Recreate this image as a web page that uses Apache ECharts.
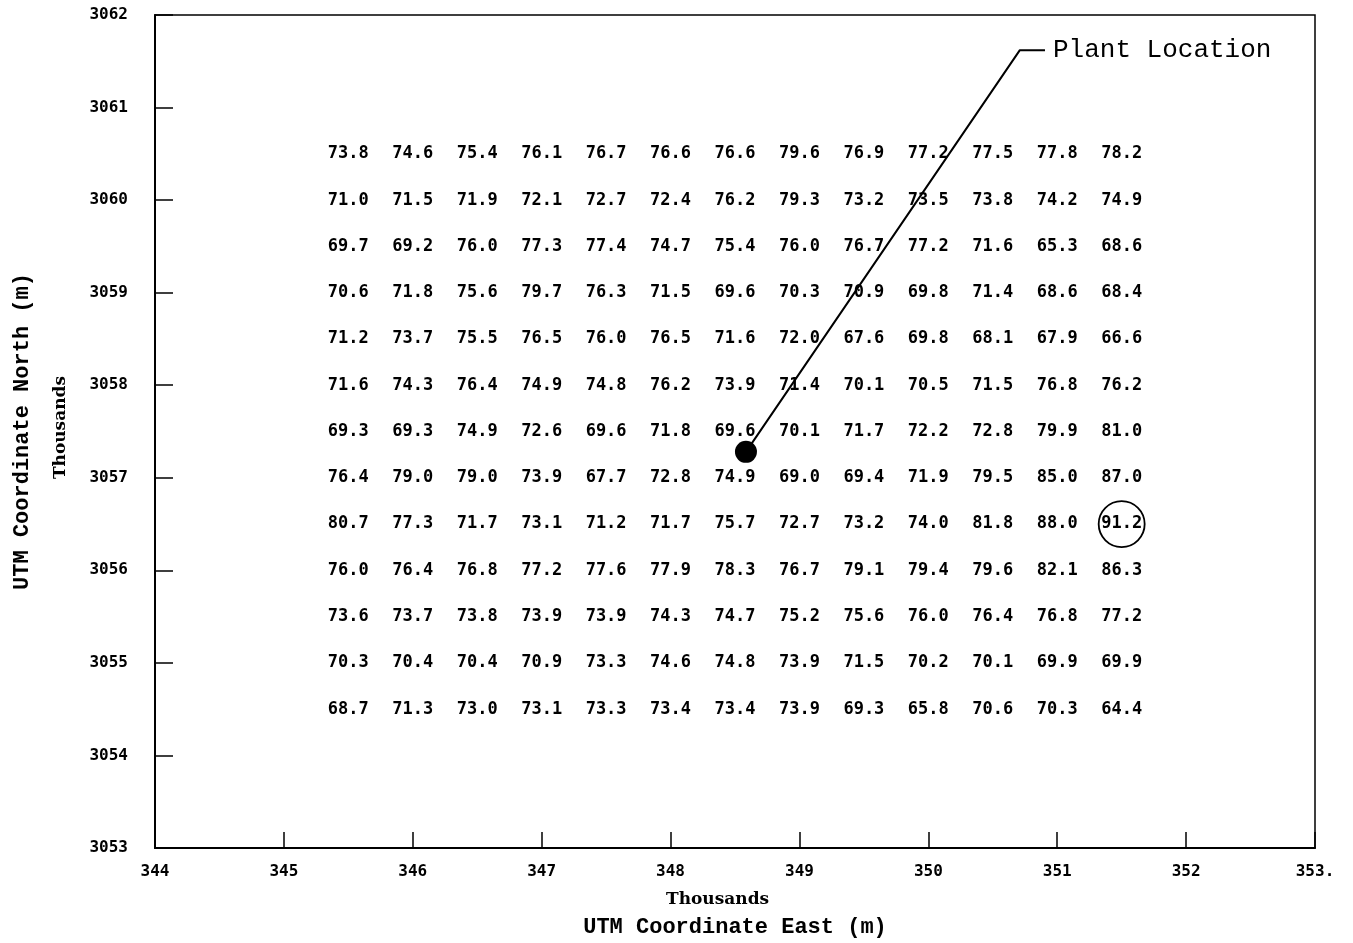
<!DOCTYPE html>
<html>
<head>
<meta charset="utf-8">
<script src="https://cdn.jsdelivr.net/npm/echarts@6/dist/echarts.min.js"></script>
<style>
  html, body { margin: 0; padding: 0; background: #fff; }
  #chart { width: 1353px; height: 943px; }
</style>
</head>
<body>
<div id="chart"></div>
<script>
// receptor grid, thousands of metres
const eastings = [345.5, 346, 346.5, 347, 347.5, 348, 348.5, 349, 349.5, 350, 350.5, 351, 351.5];
const northings = [3060.5, 3060, 3059.5, 3059, 3058.5, 3058, 3057.5, 3057, 3056.5, 3056, 3055.5, 3055, 3054.5];

// one row per northing, top to bottom
const row1 = [73.8, 74.6, 75.4, 76.1, 76.7, 76.6, 76.6, 79.6, 76.9, 77.2, 77.5, 77.8, 78.2];
const row2 = [71.0, 71.5, 71.9, 72.1, 72.7, 72.4, 76.2, 79.3, 73.2, 73.5, 73.8, 74.2, 74.9];
const row3 = [69.7, 69.2, 76.0, 77.3, 77.4, 74.7, 75.4, 76.0, 76.7, 77.2, 71.6, 65.3, 68.6];
const row4 = [70.6, 71.8, 75.6, 79.7, 76.3, 71.5, 69.6, 70.3, 70.9, 69.8, 71.4, 68.6, 68.4];
const row5 = [71.2, 73.7, 75.5, 76.5, 76.0, 76.5, 71.6, 72.0, 67.6, 69.8, 68.1, 67.9, 66.6];
const row6 = [71.6, 74.3, 76.4, 74.9, 74.8, 76.2, 73.9, 71.4, 70.1, 70.5, 71.5, 76.8, 76.2];
const row7 = [69.3, 69.3, 74.9, 72.6, 69.6, 71.8, 69.6, 70.1, 71.7, 72.2, 72.8, 79.9, 81.0];
const row8 = [76.4, 79.0, 79.0, 73.9, 67.7, 72.8, 74.9, 69.0, 69.4, 71.9, 79.5, 85.0, 87.0];
const row9 = [80.7, 77.3, 71.7, 73.1, 71.2, 71.7, 75.7, 72.7, 73.2, 74.0, 81.8, 88.0, 91.2];
const row10 = [76.0, 76.4, 76.8, 77.2, 77.6, 77.9, 78.3, 76.7, 79.1, 79.4, 79.6, 82.1, 86.3];
const row11 = [73.6, 73.7, 73.8, 73.9, 73.9, 74.3, 74.7, 75.2, 75.6, 76.0, 76.4, 76.8, 77.2];
const row12 = [70.3, 70.4, 70.4, 70.9, 73.3, 74.6, 74.8, 73.9, 71.5, 70.2, 70.1, 69.9, 69.9];
const row13 = [68.7, 71.3, 73.0, 73.1, 73.3, 73.4, 73.4, 73.9, 69.3, 65.8, 70.6, 70.3, 64.4];
const rows = [row1, row2, row3, row4, row5, row6, row7, row8, row9, row10, row11, row12, row13];

// annotations
const plantLocation = [348.585, 3057.28];
const leaderElbow = [350.71, 3061.62];
const leaderEnd = [350.905, 3061.62];
const maxReceptor = [351.5, 3056.5];

const labelFont = '"DejaVu Sans Mono", monospace';
const titleFont = '"Liberation Mono", monospace';

let cells = [];
for (let r = 0; r < northings.length; r++) {
  for (let c = 0; c < eastings.length; c++) {
    cells.push([eastings[c], northings[r], rows[r][c]]);
  }
}

const chart = echarts.init(document.getElementById('chart'));

let option = {
  animation: false,
  backgroundColor: '#fff',
  grid: {
    left: 155,
    right: 38,
    top: 15,
    bottom: 95,
    show: true,
    borderColor: '#000',
    borderWidth: 1.5
  },
  xAxis: {
    type: 'value',
    min: 344,
    max: 353,
    interval: 1,
    name: 'UTM Coordinate East (m)',
    nameLocation: 'middle',
    nameGap: 68,
    nameTextStyle: { fontFamily: titleFont, fontWeight: 'bold', fontSize: 22, color: '#000' },
    axisLine: { lineStyle: { color: '#000', width: 2 } },
    axisTick: { inside: true, length: 16, lineStyle: { color: '#000', width: 1.5 } },
    axisLabel: {
      margin: 16,
      fontFamily: labelFont,
      fontWeight: 'bold',
      fontSize: 16,
      color: '#000',
      formatter: function (v) { return v === 353 ? '353.' : String(v); }
    },
    splitLine: { show: false }
  },
  yAxis: {
    type: 'value',
    min: 3053,
    max: 3062,
    interval: 1,
    name: 'UTM Coordinate North (m)',
    nameLocation: 'middle',
    nameGap: 122,
    nameTextStyle: { fontFamily: titleFont, fontWeight: 'bold', fontSize: 22, color: '#000' },
    axisLine: { lineStyle: { color: '#000', width: 2 } },
    axisTick: { inside: true, length: 18, lineStyle: { color: '#000', width: 1.5 } },
    axisLabel: {
      margin: 27,
      padding: [6, 0, 0, 0],
      fontFamily: labelFont,
      fontWeight: 'bold',
      fontSize: 16,
      color: '#000',
      formatter: function (v) { return String(v); }
    },
    splitLine: { show: false }
  },
  graphic: [
    {
      type: 'text',
      left: 666,
      top: 891,
      style: { text: 'Thousands', font: 'bold 17px "DejaVu Serif"', fill: '#000' }
    },
    {
      type: 'text',
      left: 52,
      top: 376,
      rotation: Math.PI / 2,
      style: { text: 'Thousands', font: 'bold 17px "DejaVu Serif"', fill: '#000' }
    }
  ],
  series: [
    {
      name: 'receptors',
      type: 'scatter',
      symbolSize: 0,
      itemStyle: { opacity: 1 },
      data: cells,
      label: {
        show: true,
        position: 'inside',
        padding: [4, 0, 0, 0],
        formatter: function (p) { return p.value[2].toFixed(1); },
        fontFamily: labelFont,
        fontWeight: 'bold',
        fontSize: 17,
        color: '#000'
      },
      z: 3
    },
    {
      name: 'leader',
      type: 'line',
      showSymbol: false,
      data: [plantLocation, leaderElbow, leaderEnd],
      lineStyle: { color: '#000', width: 2 },
      z: 4
    },
    {
      name: 'plant',
      type: 'scatter',
      symbol: 'circle',
      symbolSize: 22,
      itemStyle: { color: '#000', opacity: 1 },
      data: [plantLocation],
      z: 5
    },
    {
      name: 'plant label',
      type: 'scatter',
      symbolSize: 0,
      itemStyle: { opacity: 1 },
      data: [leaderEnd],
      label: {
        show: true,
        position: 'right',
        distance: 8,
        formatter: 'Plant Location',
        fontFamily: titleFont,
        fontSize: 26,
        color: '#000'
      }
    },
    {
      name: 'max',
      type: 'scatter',
      symbol: 'circle',
      symbolSize: 46,
      itemStyle: { color: 'rgba(0,0,0,0)', borderColor: '#000', borderWidth: 1.8, opacity: 1 },
      data: [maxReceptor],
      z: 5
    }
  ]
};

chart.setOption(option);
</script>
</body>
</html>
